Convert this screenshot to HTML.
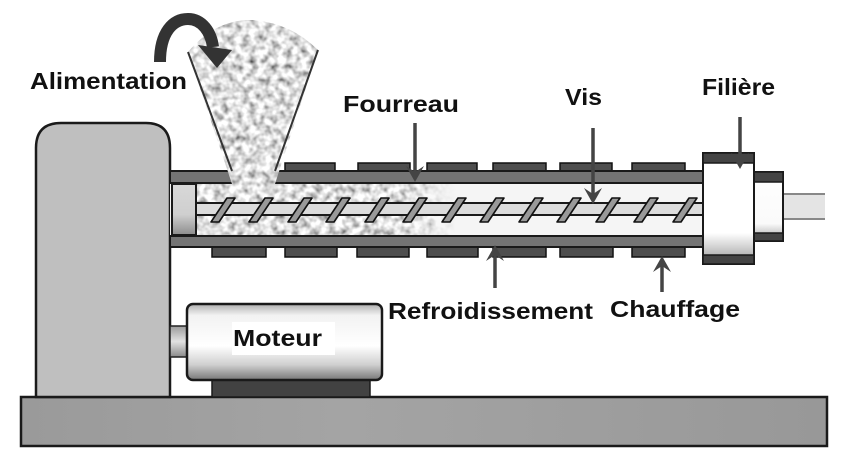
<!DOCTYPE html>
<html><head><meta charset="utf-8"><style>
html,body{margin:0;padding:0;background:#fff;}
svg{display:block;}
text{font-family:"Liberation Sans",Arial,sans-serif;font-weight:bold;fill:#111;}
</style></head><body>
<svg width="850" height="470" viewBox="0 0 850 470" xmlns="http://www.w3.org/2000/svg">
<defs>
  <filter id="tex" x="0" y="0" width="100%" height="100%">
    <feTurbulence type="fractalNoise" baseFrequency="0.14" numOctaves="2" seed="7" result="n"/>
    <feColorMatrix in="n" type="matrix" values="1 0 0 0 0  1 0 0 0 0  1 0 0 0 0  0 0 0 0 1" result="g"/>
    <feComponentTransfer in="g">
      <feFuncR type="linear" slope="1.6" intercept="-0.07"/>
      <feFuncG type="linear" slope="1.6" intercept="-0.07"/>
      <feFuncB type="linear" slope="1.6" intercept="-0.07"/>
    </feComponentTransfer>
  </filter>
  <clipPath id="hopclip">
    <path d="M188,52 Q215,20 250,20 Q290,22 318,50 L275,184 L232,184 Z"/>
  </clipPath>
  <linearGradient id="fade" x1="0" y1="0" x2="1" y2="0">
    <stop offset="0" stop-color="#fff" stop-opacity="1"/>
    <stop offset="0.78" stop-color="#fff" stop-opacity="1"/>
    <stop offset="1" stop-color="#fff" stop-opacity="0"/>
  </linearGradient>
  <mask id="chmask">
    <rect x="196" y="183" width="260" height="53" fill="url(#fade)"/>
  </mask>
  <linearGradient id="motorG" x1="0" y1="0" x2="0" y2="1">
    <stop offset="0" stop-color="#b0b0b0"/>
    <stop offset="0.15" stop-color="#f2f2f2"/>
    <stop offset="0.55" stop-color="#ffffff"/>
    <stop offset="0.8" stop-color="#cfcfcf"/>
    <stop offset="1" stop-color="#777"/>
  </linearGradient>
  <linearGradient id="shaftG" x1="0" y1="0" x2="0" y2="1">
    <stop offset="0" stop-color="#9a9a9a"/>
    <stop offset="0.5" stop-color="#e2e2e2"/>
    <stop offset="1" stop-color="#8a8a8a"/>
  </linearGradient>
  <linearGradient id="capG" x1="0" y1="0" x2="0" y2="1">
    <stop offset="0" stop-color="#d8d8d8"/>
    <stop offset="0.6" stop-color="#cfcfcf"/>
    <stop offset="1" stop-color="#8c8c8c"/>
  </linearGradient>
  <linearGradient id="dieG" x1="0" y1="0" x2="0" y2="1">
    <stop offset="0" stop-color="#fff"/>
    <stop offset="0.72" stop-color="#fff"/>
    <stop offset="1" stop-color="#9a9a9a"/>
  </linearGradient>
  <linearGradient id="die2G" x1="0" y1="0" x2="0" y2="1">
    <stop offset="0" stop-color="#fff"/>
    <stop offset="0.75" stop-color="#fafafa"/>
    <stop offset="1" stop-color="#a5a5a5"/>
  </linearGradient>
  <linearGradient id="baseG" x1="0" y1="0" x2="1" y2="0">
    <stop offset="0" stop-color="#9a9a9a"/>
    <stop offset="0.4" stop-color="#a4a4a4"/>
    <stop offset="1" stop-color="#989898"/>
  </linearGradient>
</defs>

<rect width="850" height="470" fill="#fff"/>

<!-- base -->
<rect x="21" y="397" width="806" height="49" fill="url(#baseG)" stroke="#1a1a1a" stroke-width="2.5"/>

<!-- pillar -->
<path d="M36,397 L36,148 Q36,123 61,123 L146,123 Q170,123 170,148 L170,397 Z" fill="#bfbfbf" stroke="#1a1a1a" stroke-width="2.5"/>

<!-- motor -->
<rect x="170" y="326" width="17" height="31" fill="url(#shaftG)" stroke="#222" stroke-width="1.5"/>
<rect x="212" y="379" width="158" height="18" fill="#424242" stroke="#1a1a1a" stroke-width="1.5"/>
<rect x="187" y="304" width="195" height="76" rx="6" ry="6" fill="url(#motorG)" stroke="#1a1a1a" stroke-width="2.5"/>
<rect x="232" y="322" width="103" height="33" fill="#fff"/>
<text x="233" y="346" font-size="23" textLength="89" lengthAdjust="spacingAndGlyphs">Moteur</text>

<!-- heater bands top -->
<g fill="#4e4e4e" stroke="#111" stroke-width="1.5">
  <rect x="285" y="163" width="50" height="9"/>
  <rect x="358" y="163" width="52" height="9"/>
  <rect x="427" y="163" width="50" height="9"/>
  <rect x="493" y="163" width="53" height="9"/>
  <rect x="560" y="163" width="52" height="9"/>
  <rect x="632" y="163" width="53" height="9"/>
</g>
<!-- heater bands bottom -->
<g fill="#4e4e4e" stroke="#111" stroke-width="1.5">
  <rect x="212" y="246" width="54" height="11"/>
  <rect x="285" y="246" width="52" height="11"/>
  <rect x="357" y="246" width="52" height="11"/>
  <rect x="427" y="246" width="51" height="11"/>
  <rect x="493" y="246" width="53" height="11"/>
  <rect x="560" y="246" width="53" height="11"/>
  <rect x="632" y="246" width="53" height="11"/>
</g>

<!-- chamber -->
<rect x="170" y="183" width="534" height="53" fill="#f5f5f5"/>
<g mask="url(#chmask)">
  <rect x="196" y="183" width="260" height="53" fill="#bbb" filter="url(#tex)"/>
</g>

<!-- barrel walls -->
<rect x="170" y="171" width="534" height="12" fill="#747474" stroke="#1a1a1a" stroke-width="2"/>
<rect x="170" y="236" width="534" height="11" fill="#747474" stroke="#1a1a1a" stroke-width="2"/>

<!-- hopper -->
<g clip-path="url(#hopclip)">
  <rect x="180" y="15" width="145" height="172" fill="#bbb" filter="url(#tex)"/>
</g>
<path d="M188,52 L232,171" stroke="#333" stroke-width="2" fill="none"/>
<path d="M318,50 L275,171" stroke="#333" stroke-width="2" fill="none"/>

<!-- end cap -->
<rect x="172" y="184" width="24" height="51" fill="url(#capG)" stroke="#1a1a1a" stroke-width="2"/>

<!-- screw shaft -->
<rect x="196" y="203" width="508" height="12" fill="#dcdcdc" stroke="#1a1a1a" stroke-width="2"/>
<g fill="#999" stroke="#111" stroke-width="1.6" stroke-linejoin="round">
  <path d="M211,222 L219,222 L235,198 L227,198 Z"/>
  <path d="M249,222 L257,222 L273,198 L265,198 Z"/>
  <path d="M288,222 L296,222 L312,198 L304,198 Z"/>
  <path d="M326,222 L334,222 L350,198 L342,198 Z"/>
  <path d="M365,222 L373,222 L389,198 L381,198 Z"/>
  <path d="M403,222 L411,222 L427,198 L419,198 Z"/>
  <path d="M442,222 L450,222 L466,198 L458,198 Z"/>
  <path d="M480,222 L488,222 L504,198 L496,198 Z"/>
  <path d="M519,222 L527,222 L543,198 L535,198 Z"/>
  <path d="M557,222 L565,222 L581,198 L573,198 Z"/>
  <path d="M596,222 L604,222 L620,198 L612,198 Z"/>
  <path d="M634,222 L642,222 L658,198 L650,198 Z"/>
  <path d="M673,222 L681,222 L697,198 L689,198 Z"/>
</g>

<!-- extrudate -->
<rect x="783" y="194" width="42" height="25" fill="#e4e4e4"/>
<line x1="783" y1="194" x2="825" y2="194" stroke="#888" stroke-width="2"/>
<line x1="783" y1="219" x2="825" y2="219" stroke="#888" stroke-width="2"/>

<!-- die -->
<rect x="754" y="172" width="29" height="69" fill="url(#die2G)" stroke="#1a1a1a" stroke-width="2"/>
<rect x="754" y="172" width="29" height="10" fill="#444" stroke="#1a1a1a" stroke-width="1.5"/>
<rect x="754" y="233" width="29" height="8" fill="#444" stroke="#1a1a1a" stroke-width="1.5"/>
<rect x="703" y="153" width="51" height="111" fill="url(#dieG)" stroke="#1a1a1a" stroke-width="2"/>
<rect x="703" y="153" width="51" height="10" fill="#444" stroke="#1a1a1a" stroke-width="1.5"/>
<rect x="703" y="255" width="51" height="9" fill="#444" stroke="#1a1a1a" stroke-width="1.5"/>

<!-- curved feed arrow -->
<path d="M160,62 C160,32 173,19 188,19 C202,19 211,32 213,47" stroke="#333" stroke-width="12" fill="none"/>
<path d="M198,45 L232,50 L217,68 Z" fill="#333"/>

<!-- label arrows -->
<g stroke="#444" stroke-width="3.5" fill="none">
  <line x1="415" y1="123" x2="415" y2="176"/>
  <line x1="593" y1="128" x2="593" y2="198"/>
  <line x1="740" y1="117" x2="740" y2="163"/>
  <line x1="495" y1="288" x2="495" y2="251"/>
  <line x1="662" y1="292" x2="662" y2="262"/>
</g>
<g fill="#444">
  <path d="M415,182 L406,166 L415,172 L424,166 Z"/>
  <path d="M593,204 L584,188 L593,194 L602,188 Z"/>
  <path d="M740,169 L731,153 L740,159 L749,153 Z"/>
  <path d="M495,245 L486,261 L495,255 L504,261 Z"/>
  <path d="M662,256 L653,272 L662,266 L671,272 Z"/>
</g>

<!-- labels -->
<text x="30" y="89" font-size="23" textLength="157" lengthAdjust="spacingAndGlyphs">Alimentation</text>
<text x="343" y="112" font-size="23" textLength="116" lengthAdjust="spacingAndGlyphs">Fourreau</text>
<text x="565" y="105" font-size="23" textLength="37" lengthAdjust="spacingAndGlyphs">Vis</text>
<text x="702" y="95" font-size="23" textLength="73" lengthAdjust="spacingAndGlyphs">Filière</text>
<text x="388" y="319" font-size="23" textLength="205" lengthAdjust="spacingAndGlyphs">Refroidissement</text>
<text x="610" y="317" font-size="23" textLength="130" lengthAdjust="spacingAndGlyphs">Chauffage</text>
</svg>
</body></html>
